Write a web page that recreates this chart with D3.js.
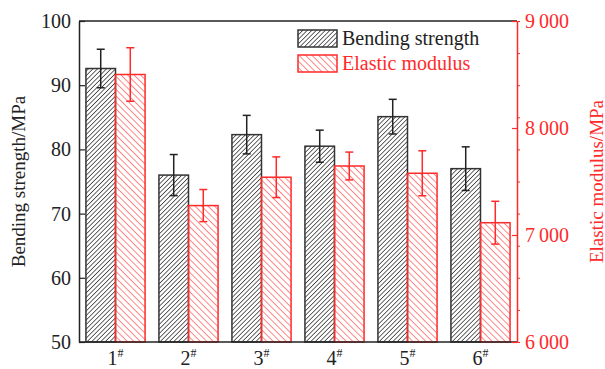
<!DOCTYPE html>
<html>
<head>
<meta charset="utf-8">
<script src="https://cdn.jsdelivr.net/npm/d3@7/dist/d3.min.js"></script>
<style>
  html, body { margin: 0; padding: 0; background: #fff; }
  svg { display: block; }
  svg text { font-family: "Liberation Serif", "Times New Roman", "DejaVu Serif", serif; }
</style>
</head>
<body>
<div id="chart"></div>
<script>
// samples 1# .. 6#
const samples = ['1', '2', '3', '4', '5', '6'];
const bendingStrength = [92.6, 76.0, 82.3, 80.5, 85.1, 77.0];
const bendingErr = [3.0, 3.2, 3.0, 2.5, 2.7, 3.4];
const elasticModulus = [8500, 7275, 7540, 7645, 7577, 7115];
const elasticErr = [250, 150, 190, 130, 210, 200];
const leftTicks = [50, 60, 70, 80, 90, 100];
const rightTicks = [6000, 7000, 8000, 9000];
const rightMinorTicks = d3.range(6000, 9001, 300);

const width = 605, height = 369;
const margin = { top: 21, right: 88, bottom: 27, left: 79 };
const innerWidth = width - margin.left - margin.right;
const innerHeight = height - margin.top - margin.bottom;
const black = '#222';
const red = '#ff2a2a';
const serif = '"Liberation Serif", "Times New Roman", serif';

const svg = d3.select('#chart').append('svg')
  .attr('width', width)
  .attr('height', height)
  .attr('font-family', serif);

// hatch patterns
const defs = svg.append('defs');
defs.append('pattern')
  .attr('id', 'hatch-black')
  .attr('patternUnits', 'userSpaceOnUse')
  .attr('width', 3.2).attr('height', 3.2)
  .attr('patternTransform', 'rotate(45)')
  .append('line')
    .attr('x1', 0).attr('y1', 0).attr('x2', 0).attr('y2', 3.2)
    .attr('stroke', '#333').attr('stroke-width', 1.5);
defs.append('pattern')
  .attr('id', 'hatch-red')
  .attr('patternUnits', 'userSpaceOnUse')
  .attr('width', 4.6).attr('height', 4.6)
  .attr('patternTransform', 'rotate(-45)')
  .append('line')
    .attr('x1', 0).attr('y1', 0).attr('x2', 0).attr('y2', 4.6)
    .attr('stroke', red).attr('stroke-width', 1.1);

const g = svg.append('g')
  .attr('transform', 'translate(' + margin.left + ',' + margin.top + ')');

const x0 = d3.scaleBand().domain(samples).range([0, innerWidth]).paddingInner(0.19).paddingOuter(0.095);
const x1 = d3.scaleBand().domain(['b', 'e']).range([0, x0.bandwidth()]);
const yL = d3.scaleLinear().domain([50, 100]).range([innerHeight, 0]);
const yR = d3.scaleLinear().domain([6000, 9000]).range([innerHeight, 0]);

// bars
const groups = g.selectAll('.grp')
  .data(samples)
  .enter().append('g')
    .attr('class', 'grp')
    .attr('transform', function(d) { return 'translate(' + x0(d) + ',0)'; });

groups.append('rect')
  .attr('x', x1('b'))
  .attr('y', function(d, i) { return yL(bendingStrength[i]); })
  .attr('width', x1.bandwidth())
  .attr('height', function(d, i) { return innerHeight - yL(bendingStrength[i]); })
  .attr('fill', 'url(#hatch-black)')
  .attr('stroke', '#333').attr('stroke-width', 1.5);

groups.append('rect')
  .attr('x', x1('e'))
  .attr('y', function(d, i) { return yR(elasticModulus[i]); })
  .attr('width', x1.bandwidth())
  .attr('height', function(d, i) { return innerHeight - yR(elasticModulus[i]); })
  .attr('fill', 'url(#hatch-red)')
  .attr('stroke', red).attr('stroke-width', 1.5);

// error bars
function errorBar(sel, cx, yScale, vals, errs, color) {
  sel.each(function(d, i) {
    const e = d3.select(this);
    const top = yScale(vals[i] + errs[i]), bot = yScale(vals[i] - errs[i]);
    e.append('line').attr('x1', cx).attr('x2', cx).attr('y1', top).attr('y2', bot)
      .attr('stroke', color).attr('stroke-width', 1.5);
    [top, bot].forEach(function(yy) {
      e.append('line').attr('x1', cx - 4).attr('x2', cx + 4).attr('y1', yy).attr('y2', yy)
        .attr('stroke', color).attr('stroke-width', 1.5);
    });
  });
}
errorBar(groups, x1('b') + x1.bandwidth() / 2, yL, bendingStrength, bendingErr, black);
errorBar(groups, x1('e') + x1.bandwidth() / 2, yR, elasticModulus, elasticErr, red);

// frame: top and bottom
g.append('line').attr('x1', 0).attr('x2', innerWidth).attr('y1', 0).attr('y2', 0)
  .attr('stroke', black).attr('stroke-width', 1.5);
g.append('line').attr('x1', 0).attr('x2', innerWidth).attr('y1', innerHeight).attr('y2', innerHeight)
  .attr('stroke', black).attr('stroke-width', 1.5);

// left axis
const axL = g.append('g')
  .call(d3.axisLeft(yL).tickValues(leftTicks).tickSizeInner(-6).tickSizeOuter(0).tickPadding(8))
  .attr('font-family', serif).attr('font-size', 20);
axL.select('.domain').attr('stroke', black).attr('stroke-width', 1.5);
axL.selectAll('.tick line').attr('stroke', black).attr('stroke-width', 1.2);
axL.selectAll('.tick text').attr('fill', black);

// right axis
const fmtR = function(d) { return d3.format(',')(d).replace(',', '\u2009'); };
const axRmin = g.append('g')
  .attr('transform', 'translate(' + innerWidth + ',0)')
  .call(d3.axisRight(yR).tickValues(rightMinorTicks).tickSize(3).tickFormat(''));
axRmin.select('.domain').remove();
axRmin.selectAll('.tick line').attr('stroke', red).attr('stroke-width', 1);

const axR = g.append('g')
  .attr('transform', 'translate(' + innerWidth + ',0)')
  .call(d3.axisRight(yR).tickValues(rightTicks).tickSizeInner(-5).tickSizeOuter(0).tickPadding(8).tickFormat(fmtR))
  .attr('font-family', serif).attr('font-size', 20);
axR.select('.domain').attr('stroke', red).attr('stroke-width', 1.5);
axR.selectAll('.tick line').attr('stroke', red).attr('stroke-width', 1.2);
axR.selectAll('.tick text').attr('fill', red);

// x labels with superscript #
const xlab = g.append('g');
samples.forEach(function(s) {
  const t = xlab.append('text')
    .attr('x', x0(s) + x0.bandwidth() / 2)
    .attr('y', innerHeight + 23)
    .attr('text-anchor', 'middle')
    .attr('fill', black)
    .attr('font-size', 20);
  t.append('tspan').text(s);
  t.append('tspan').attr('dy', -8).attr('font-size', 12).text('#');
});

// axis titles
svg.append('text')
  .attr('transform', 'translate(25,' + (margin.top + innerHeight / 2) + ') rotate(-90)')
  .attr('text-anchor', 'middle')
  .attr('fill', black)
  .attr('font-size', 19)
  .text('Bending strength/MPa');
svg.append('text')
  .attr('transform', 'translate(603,' + (margin.top + innerHeight / 2) + ') rotate(-90)')
  .attr('text-anchor', 'middle')
  .attr('fill', red)
  .attr('font-size', 19)
  .text('Elastic modulus/MPa');

// legend
const legendItems = [
  { label: 'Bending strength', fill: 'url(#hatch-black)', stroke: '#333', color: black },
  { label: 'Elastic modulus', fill: 'url(#hatch-red)', stroke: red, color: red }
];
const legend = svg.append('g').attr('transform', 'translate(298,30)');
legendItems.forEach(function(item, i) {
  const row = legend.append('g').attr('transform', 'translate(0,' + (i * 25) + ')');
  row.append('rect')
    .attr('width', 39).attr('height', 17)
    .attr('fill', item.fill)
    .attr('stroke', item.stroke).attr('stroke-width', 1.5);
  row.append('text')
    .attr('x', 44).attr('y', 15)
    .attr('fill', item.color)
    .attr('font-size', 20)
    .text(item.label);
});
</script>
</body>
</html>
